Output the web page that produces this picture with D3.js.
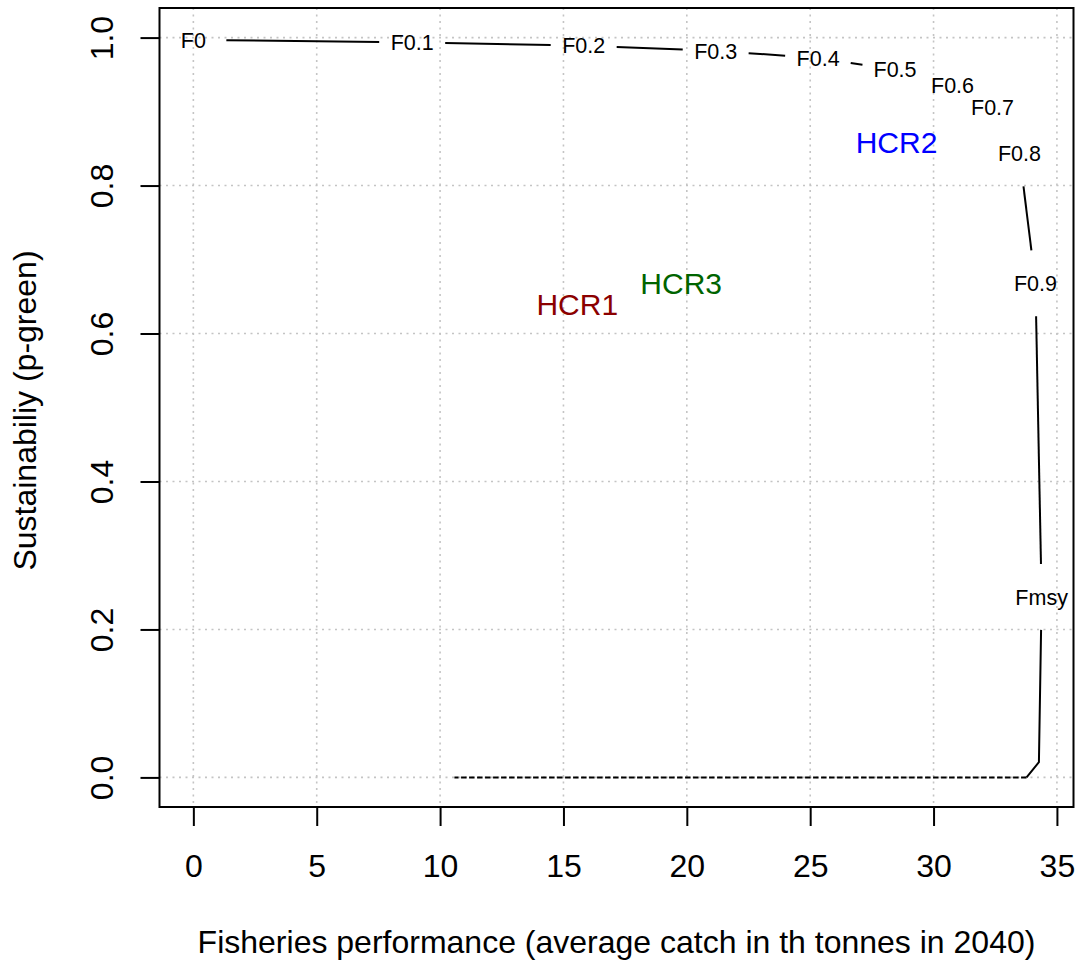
<!DOCTYPE html>
<html>
<head>
<meta charset="utf-8">
<script src="https://cdn.jsdelivr.net/npm/d3@7"></script>
<style>
  html, body { margin: 0; padding: 0; background: #fff; }
  svg { display: block; font-family: "Liberation Sans", Arial, Helvetica, sans-serif; }
</style>
</head>
<body>
<svg id="chart" width="1079" height="965"></svg>
<script>
// Trade-off curve: average catch vs probability of being in the green zone
const fLabels = ["F0", "F0.1", "F0.2", "F0.3", "F0.4", "F0.5", "F0.6", "F0.7", "F0.8", "F0.9", "Fmsy"];
const fCatch  = [0, 8.87, 15.82, 21.17, 25.32, 28.44, 30.77, 32.39, 33.48, 34.13, 34.38];
const fGreen  = [0.997, 0.9937, 0.989, 0.982, 0.9726, 0.9565, 0.936, 0.906, 0.843, 0.668, 0.244];

// Beyond Fmsy the stock collapses
const tailCatch = [34.38, 34.27, 33.77];
const tailGreen = [0.244, 0.0206, 0];
const collapseCatch = [33.77, 10.58];
const collapseGreen = [0, 0];

// Harvest control rules
const hcrNames  = ["HCR1", "HCR2", "HCR3"];
const hcrCatch  = [15.56, 28.5, 19.77];
const hcrGreen  = [0.639, 0.859, 0.668];
const hcrColors = ["#8B0000", "#0000FF", "#006400"];

// Axes
const xTicks = [0, 5, 10, 15, 20, 25, 30, 35];
const yTicks = [0, 0.2, 0.4, 0.6, 0.8, 1.0];
const xData = [0, 34.3];
const yData = [0, 1];
const xTitle = "Fisheries performance (average catch in th tonnes in 2040)";
const yTitle = "Sustainabiliy (p-green)";

const box = { left: 159.5, right: 1073.5, top: 8, bottom: 807 };
const pad = (r) => { const d = (r[1] - r[0]) * 0.04; return [r[0] - d, r[1] + d]; };

const x = d3.scaleLinear().domain(pad(xData)).range([box.left, box.right]);
const y = d3.scaleLinear().domain(pad(yData)).range([box.bottom, box.top]);

const svg = d3.select("#chart");
svg.append("rect").attr("width", 1079).attr("height", 965).attr("fill", "#fff");

// grid
const grid = svg.append("g").attr("stroke", "#c4c4c4").attr("stroke-width", 1.6)
  .attr("stroke-dasharray", "2,4.5").attr("fill", "none");
grid.selectAll("line.v").data(xTicks).join("line").attr("class", "v")
  .attr("x1", d => x(d)).attr("x2", d => x(d)).attr("y1", box.top).attr("y2", box.bottom);
grid.selectAll("line.h").data(yTicks).join("line").attr("class", "h")
  .attr("y1", d => y(d)).attr("y2", d => y(d)).attr("x1", box.left).attr("x2", box.right);

// axes
const xAxis = d3.axisBottom(x).tickValues(xTicks).tickFormat(d3.format("d")).tickSize(19).tickPadding(14);
const yAxis = d3.axisLeft(y).tickValues(yTicks).tickFormat(d3.format(".1f")).tickSize(19).tickPadding(0);

const gx = svg.append("g").attr("transform", `translate(0,${box.bottom})`).call(xAxis);
gx.select(".domain").remove();
gx.selectAll(".tick line").attr("stroke", "#000").attr("stroke-width", 2);
gx.selectAll(".tick text").attr("font-size", 32).attr("fill", "#000")
  .attr("font-family", "Liberation Sans, Arial, sans-serif")
  .attr("dy", null).attr("y", 70).attr("dominant-baseline", "auto");

const gy = svg.append("g").attr("transform", `translate(${box.left},0)`).call(yAxis);
gy.select(".domain").remove();
gy.selectAll(".tick line").attr("stroke", "#000").attr("stroke-width", 2);
gy.selectAll(".tick text").attr("font-size", 32).attr("fill", "#000")
  .attr("font-family", "Liberation Sans, Arial, sans-serif")
  .attr("x", null).attr("dy", null).attr("text-anchor", "middle")
  .attr("transform", `translate(${113 - box.left},0) rotate(-90)`);

// frame
svg.append("rect").attr("x", box.left).attr("y", box.top)
  .attr("width", box.right - box.left).attr("height", box.bottom - box.top)
  .attr("fill", "none").attr("stroke", "#000").attr("stroke-width", 2);

// titles
svg.append("text").attr("x", (box.left + box.right) / 2).attr("y", 953)
  .attr("text-anchor", "middle").attr("font-size", 32).attr("fill", "#000").text(xTitle);
svg.append("text").attr("transform", `translate(36,${(box.top + box.bottom) / 2 + 3}) rotate(-90)`)
  .attr("text-anchor", "middle").attr("font-size", 32).attr("fill", "#000").text(yTitle);

// line segments that stop short of the labelled points
const GAP = 33;
function gappedSegments(xs, ys, gapStart, gapEnd) {
  const segs = [];
  for (let i = 0; i < xs.length - 1; i++) {
    const x0 = x(xs[i]), y0 = y(ys[i]), x1 = x(xs[i + 1]), y1 = y(ys[i + 1]);
    const d = Math.hypot(x1 - x0, y1 - y0);
    const g0 = gapStart(i), g1 = gapEnd(i + 1);
    if (d <= g0 + g1) continue;
    const ux = (x1 - x0) / d, uy = (y1 - y0) / d;
    segs.push([[x0 + ux * g0, y0 + uy * g0], [x1 - ux * g1, y1 - uy * g1]]);
  }
  return segs;
}

const curve = svg.append("g").attr("stroke", "#000").attr("stroke-width", 2).attr("fill", "none");
curve.selectAll("line").data(gappedSegments(fCatch, fGreen, () => GAP, () => GAP)).join("line")
  .attr("x1", d => d[0][0]).attr("y1", d => d[0][1])
  .attr("x2", d => d[1][0]).attr("y2", d => d[1][1]);

// tail below Fmsy: gap only where it leaves the Fmsy label
const tailPts = tailCatch.map((c, i) => [x(c), y(tailGreen[i])]);
{
  const [a, b] = tailPts;
  const d = Math.hypot(b[0] - a[0], b[1] - a[1]);
  tailPts[0] = [a[0] + (b[0] - a[0]) / d * GAP, a[1] + (b[1] - a[1]) / d * GAP];
}
curve.append("path").attr("d", d3.line()(tailPts)).attr("stroke-linejoin", "round");

const collapse = d3.line().x((d, i) => x(collapseCatch[i])).y((d, i) => y(collapseGreen[i]));
curve.append("path").attr("d", collapse(collapseCatch)).attr("stroke-dasharray", "5.5,2.5");

// F labels
const fs = 21.5;
svg.append("g").selectAll("text").data(fLabels).join("text")
  .attr("x", (d, i) => x(fCatch[i])).attr("y", (d, i) => y(fGreen[i]) + fs * 0.358)
  .attr("text-anchor", "middle").attr("font-size", fs).attr("fill", "#000").text(d => d);

// HCR labels
const hs = 30;
svg.append("g").selectAll("text").data(hcrNames).join("text")
  .attr("x", (d, i) => x(hcrCatch[i])).attr("y", (d, i) => y(hcrGreen[i]) + hs * 0.358)
  .attr("text-anchor", "middle").attr("font-size", hs).attr("fill", (d, i) => hcrColors[i]).text(d => d);
</script>
</body>
</html>
